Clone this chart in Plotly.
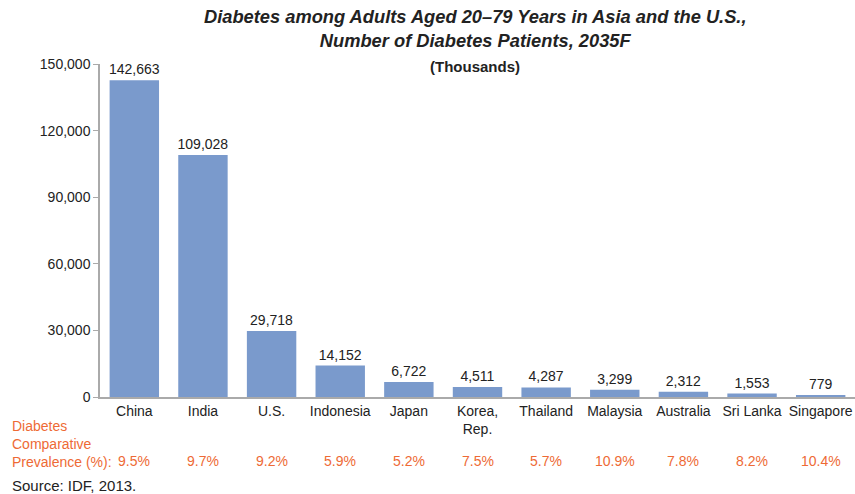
import plotly.graph_objects as go

# Diabetes patients (thousands), adults aged 20-79, 2035 forecast
countries = ["China", "India", "U.S.", "Indonesia", "Japan", "Korea,<br>Rep.",
             "Thailand", "Malaysia", "Australia", "Sri Lanka", "Singapore"]
patients = [142663, 109028, 29718, 14152, 6722, 4511, 4287, 3299, 2312, 1553, 779]
prevalence = ["9.5%", "9.7%", "9.2%", "5.9%", "5.2%", "7.5%", "5.7%", "10.9%",
              "7.8%", "8.2%", "10.4%"]
y_ticks = [0, 30000, 60000, 90000, 120000, 150000]

FONT = "Arial, Liberation Sans, sans-serif"
BAR = "#7A9ACC"
ORANGE = "#EE6A35"
TEXT = "#222222"

fig = go.Figure(go.Bar(
    x=countries, y=patients,
    marker=dict(color=BAR, line=dict(width=0)),
    text=[f"{v:,}" for v in patients], textposition="outside",
    textfont=dict(family=FONT, size=14, color=TEXT),
    constraintext="none",
    cliponaxis=False,
))

annotations = [
    dict(text="<b><i>Diabetes among Adults Aged 20–79 Years in Asia and the U.S.,<br>"
              "Number of Diabetes Patients, 2035F</i></b>",
         xref="paper", yref="paper", x=0.497, y=1.107, xanchor="center", yanchor="middle",
         showarrow=False, font=dict(family=FONT, size=18.3, color=TEXT)),
    dict(text="<b>(Thousands)</b>", xref="paper", yref="paper", x=0.497, y=0.991,
         xanchor="center", yanchor="middle", showarrow=False,
         font=dict(family=FONT, size=15, color=TEXT)),
    dict(text="Diabetes<br>Comparative<br>Prevalence (%):", xref="paper", yref="paper",
         x=-0.119, y=-0.142, xanchor="left", yanchor="middle", align="left",
         showarrow=False, font=dict(family=FONT, size=14, color=ORANGE)),
    dict(text="Source: IDF, 2013.", xref="paper", yref="paper", x=-0.119, y=-0.265,
         xanchor="left", yanchor="middle", showarrow=False,
         font=dict(family=FONT, size=15, color=TEXT)),
]
for c, p in zip(countries, prevalence):
    annotations.append(dict(text=p, x=c, xref="x", yref="paper", y=-0.192,
                            xanchor="center", yanchor="middle", showarrow=False,
                            font=dict(family=FONT, size=14, color=ORANGE)))

fig.update_layout(
    width=855, height=494,
    margin=dict(l=100, r=0, t=64, b=97),
    paper_bgcolor="white", plot_bgcolor="white",
    bargap=0.28, showlegend=False,
    font=dict(family=FONT, size=13, color=TEXT),
    annotations=annotations,
    xaxis=dict(showline=True, linecolor="#AAAAAA", linewidth=1.5, ticks="",
               tickfont=dict(family=FONT, size=14, color=TEXT), showgrid=False),
    yaxis=dict(range=[0, 150000], tickvals=y_ticks, tickformat=",", showgrid=False,
               showline=True, linecolor="#AAAAAA", linewidth=1.5, ticks="outside",
               ticklen=5, tickcolor="#AAAAAA", zeroline=False,
               tickfont=dict(family=FONT, size=14, color=TEXT)),
)

fig.write_html("out.html")
